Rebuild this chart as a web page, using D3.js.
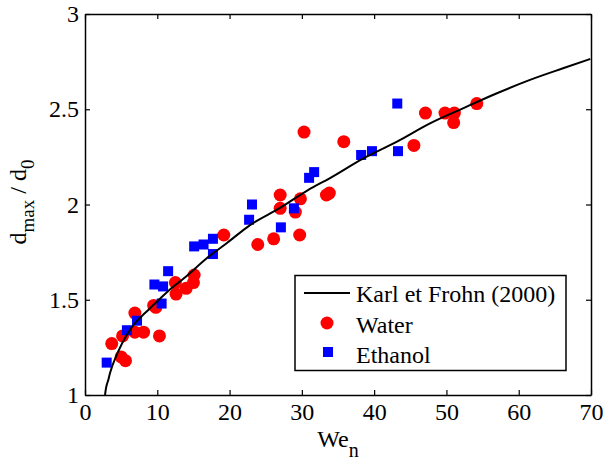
<!DOCTYPE html>
<html>
<head>
<meta charset="utf-8">
<script src="https://cdn.jsdelivr.net/npm/d3@7"></script>
<style>
  html, body { margin: 0; padding: 0; background: #fff; }
  .serif { font-family: 'Liberation Serif'; }
</style>
</head>
<body>
<svg id="chart" width="603" height="461"></svg>
<script>
// ---- data ----
const waterX = [3.7, 5.2, 5.0, 5.6, 6.9, 6.9, 8.1, 9.5, 9.8, 10.3, 12.5, 12.6, 14.0, 15.1, 15.0, 19.2, 23.9, 26.1, 27.0, 27.0, 29.1, 29.7, 29.8, 30.3, 33.4, 33.8, 35.8, 45.5, 47.1, 49.8, 51.1, 51.0, 54.2];
const waterY = [1.27, 1.31, 1.20, 1.18, 1.43, 1.33, 1.33, 1.47, 1.46, 1.31, 1.59, 1.53, 1.56, 1.63, 1.59, 1.84, 1.79, 1.82, 2.05, 1.98, 1.96, 1.84, 2.03, 2.38, 2.05, 2.06, 2.33, 2.31, 2.48, 2.48, 2.48, 2.43, 2.53];

const ethanolX = [3.0, 5.8, 7.2, 9.6, 10.8, 10.6, 11.5, 15.1, 16.4, 17.7, 17.7, 22.7, 23.1, 27.1, 28.9, 31.0, 31.7, 38.2, 39.7, 43.2, 43.3];
const ethanolY = [1.17, 1.34, 1.39, 1.58, 1.57, 1.48, 1.65, 1.78, 1.79, 1.82, 1.74, 1.92, 2.00, 1.88, 1.98, 2.14, 2.17, 2.26, 2.28, 2.53, 2.28];

const curveX = [2.77, 2.91, 3.22, 3.46, 4.57, 5.77, 7.15, 8.30, 9.45, 11.52, 14.07, 16.84, 19.64, 22.83, 26.98, 30.85, 33.90, 38.46, 43.16, 47.73, 52.29, 56.99, 61.56, 66.13, 69.9];
const curveY = [1.000, 1.037, 1.079, 1.115, 1.226, 1.315, 1.388, 1.430, 1.472, 1.546, 1.625, 1.718, 1.798, 1.892, 1.982, 2.076, 2.139, 2.241, 2.330, 2.426, 2.505, 2.584, 2.654, 2.715, 2.764];

const xTicks = [0, 10, 20, 30, 40, 50, 60, 70];
const xTickLabels = ["0", "10", "20", "30", "40", "50", "60", "70"];
const yTicks = [1, 1.5, 2, 2.5, 3];
const yTickLabels = ["1", "1.5", "2", "2.5", "3"];
const legendLabels = ["Karl et Frohn (2000)", "Water", "Ethanol"];

// ---- layout ----
const FONT = "'Liberation Serif', Times, serif";
function serif(sel, size) {
  return sel.attr("class", "serif")
    .style("font-family", FONT, "important")
    .style("font-size", size + "px");
}
const svg = d3.select("#chart");
const L = 85, R = 591, T = 14, B = 395;
const x = d3.scaleLinear().domain([0, 70]).range([L, R]);
const y = d3.scaleLinear().domain([1, 3]).range([B, T]);
const FS = 24;

svg.append("defs").append("clipPath").attr("id", "clip")
  .append("rect").attr("x", L).attr("y", T).attr("width", R - L).attr("height", B - T);

// markers
const plot = svg.append("g").attr("clip-path", "url(#clip)");
const water = waterX.map((v, i) => [v, waterY[i]]);
const eth = ethanolX.map((v, i) => [v, ethanolY[i]]);
const curve = curveX.map((v, i) => [v, curveY[i]]);

plot.selectAll("circle.w").data(water).enter().append("circle")
  .attr("cx", d => x(d[0])).attr("cy", d => y(d[1])).attr("r", 6.5).attr("fill", "#ff0000");
const SQ = 10;
plot.selectAll("rect.e").data(eth).enter().append("rect")
  .attr("x", d => x(d[0]) - SQ / 2).attr("y", d => y(d[1]) - SQ / 2)
  .attr("width", SQ).attr("height", SQ).attr("fill", "#0000ff");

plot.append("path").datum(curve)
  .attr("d", d3.line().x(d => x(d[0])).y(d => y(d[1])).curve(d3.curveMonotoneX))
  .attr("fill", "none").attr("stroke", "#000").attr("stroke-width", 2);

// axes
function styleAxis(g) {
  g.attr("font-family", null).attr("font-size", null);
  g.selectAll("path.domain").attr("stroke", "#000").attr("stroke-width", 1.5);
  g.selectAll(".tick line").attr("stroke", "#000").attr("stroke-width", 1.2);
  serif(g.selectAll(".tick text").attr("fill", "#000"), FS);
}
svg.append("g").attr("transform", `translate(0,${B})`)
  .call(d3.axisBottom(x).tickValues(xTicks).tickFormat((d, i) => xTickLabels[i]).tickSizeInner(-5).tickSizeOuter(0).tickPadding(8))
  .call(styleAxis);
svg.append("g").attr("transform", `translate(0,${T})`)
  .call(d3.axisTop(x).tickValues(xTicks).tickFormat("").tickSizeInner(-5).tickSizeOuter(0))
  .call(styleAxis);
svg.append("g").attr("transform", `translate(${L},0)`)
  .call(d3.axisLeft(y).tickValues(yTicks).tickFormat((d, i) => yTickLabels[i]).tickSizeInner(-5).tickSizeOuter(0).tickPadding(6))
  .call(styleAxis);
svg.append("g").attr("transform", `translate(${R},0)`)
  .call(d3.axisRight(y).tickValues(yTicks).tickFormat("").tickSizeInner(-5).tickSizeOuter(0))
  .call(styleAxis);

// axis labels
const xl = serif(svg.append("text"), FS).attr("x", (L + R) / 2).attr("y", 447)
  .attr("text-anchor", "middle").attr("fill", "#000");
xl.append("tspan").text("We");
xl.append("tspan").attr("dy", 10).style("font-size", "20px").text("n");

const yl = serif(svg.append("text"), FS).attr("transform", `translate(26,202) rotate(-90)`)
  .attr("text-anchor", "middle").attr("fill", "#000");
yl.append("tspan").text("d");
yl.append("tspan").attr("dy", 8).style("font-size", "19px").text("max");
yl.append("tspan").attr("dy", -8).text(" / d");
yl.append("tspan").attr("dy", 8).style("font-size", "19px").text("0");

// legend
const lg = svg.append("g");
lg.append("rect").attr("x", 295).attr("y", 275.5).attr("width", 271).attr("height", 95)
  .attr("fill", "#fff").attr("stroke", "#000").attr("stroke-width", 1.5);
lg.append("line").attr("x1", 304).attr("x2", 350).attr("y1", 293).attr("y2", 293)
  .attr("stroke", "#000").attr("stroke-width", 2);
lg.append("circle").attr("cx", 327).attr("cy", 323).attr("r", 6.5).attr("fill", "#ff0000");
lg.append("rect").attr("x", 328 - SQ / 2).attr("y", 352 - SQ / 2).attr("width", SQ).attr("height", SQ).attr("fill", "#0000ff");
const ly = [302, 333, 363];
legendLabels.forEach((t, i) => {
  serif(lg.append("text"), FS).attr("x", 356).attr("y", ly[i]).attr("fill", "#000").text(t);
});
</script>
</body>
</html>
